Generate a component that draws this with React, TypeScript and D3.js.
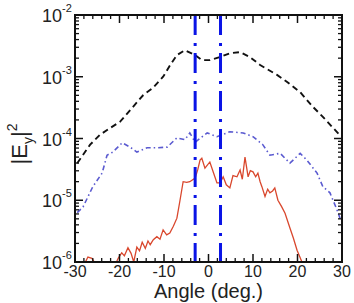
import React, { useEffect } from 'react';
import * as d3 from 'd3';

// black dashed curve (angle, log10 |Ey|^2)
const blackAngle = [-29.5, -26.6, -24.4, -22.1, -19.9, -17.6, -14.7, -12.5, -10.2, -8.6, -7.1, -5.3, -3, -1.5, 0.3, 2.6, 4.8, 7.1, 9.3, 11.6, 15.4, 17.6, 20.6, 23.5, 25.7, 29.7];
const blackLog = [-4.4, -4.1, -3.94, -3.83, -3.73, -3.54, -3.3, -3.18, -3.0, -2.81, -2.65, -2.57, -2.65, -2.73, -2.73, -2.68, -2.62, -2.6, -2.68, -2.81, -2.97, -3.08, -3.25, -3.49, -3.65, -3.96];

// blue dash-dot curve
const blueAngle = [-29.5, -28.2, -26, -23.9, -22.8, -21.5, -19.4, -17.6, -16.1, -13.8, -11.6, -9.3, -7.1, -5.3, -4.2, -3, -0.3, 1.9, 4.8, 7.8, 10, 12.2, 13.8, 16.1, 18.3, 20.6, 22.1, 24.4, 25.7, 27.3, 28.9, 29.6];
const blueLog = [-5.2, -5.11, -4.78, -4.56, -4.27, -4.22, -4.07, -4.14, -4.22, -4.15, -4.15, -4.14, -3.99, -4.02, -3.91, -4.06, -3.91, -3.97, -3.89, -3.91, -3.97, -4.1, -4.27, -4.24, -4.4, -4.24, -4.35, -4.56, -4.78, -4.88, -5.16, -5.3];

// red solid curve (noisy)
const redAngle = [-28, -27.1, -26.2, -25.5, -24.5, -21, -20.3, -19.5, -18.9, -18.1, -17.4, -16.8, -16.1, -15.5, -14.9, -14.2, -13.6, -13.1, -12.4, -11.6, -10.9, -10.2, -9.4, -8.7, -7.9, -7.1, -6.4, -5.7, -4.9, -4.2, -3, -2.4, -1.9, -1.5, -0.8, 0.3, 1.1, 1.9, 2.6, 3.3, 4, 4.8, 5.5, 6.4, 7.1, 7.6, 8.2, 8.9, 9.4, 10, 10.6, 11.1, 11.6, 12, 12.7, 13.3, 13.8, 14.4, 14.9, 15.6, 16.4, 17.2, 18.3, 19.1, 19.9, 21, 22];
const redLog = [-6.05, -5.92, -5.94, -6.02, -6.3, -6.05, -5.94, -5.85, -5.9, -5.77, -5.86, -6.0, -5.76, -5.82, -5.68, -5.78, -5.66, -5.72, -5.64, -5.59, -5.63, -5.48, -5.56, -5.53, -5.42, -5.29, -5.0, -4.7, -4.71, -4.7, -4.64, -4.5, -4.35, -4.32, -4.48, -4.38, -4.55, -4.72, -4.72, -4.62, -4.75, -4.8, -4.6, -4.62, -4.51, -4.66, -4.3, -4.62, -4.52, -4.54, -4.62, -4.56, -4.7, -4.78, -4.94, -4.82, -4.88, -4.85, -4.8, -5.0, -5.1, -5.21, -5.45, -5.62, -5.81, -6.0, -6.3];

// vertical dash-dot markers
const markerAngles = [-3, 2.7];

const xTicks = [-30, -20, -10, 0, 10, 20, 30];
const yDecades = [-2, -3, -4, -5, -6];

const W = 354;
const H = 303;
const margin = { top: 15, right: 12, bottom: 41, left: 75 };

const App: React.FC = () => {
  useEffect(() => {
    document.body.style.margin = '0';
  }, []);

  const iw = W - margin.left - margin.right;
  const ih = H - margin.top - margin.bottom;
  const x = d3.scaleLinear().domain([-30, 30]).range([0, iw]);
  const y = d3.scaleLinear().domain([-6, -2]).range([ih, 0]);

  const line = d3
    .line<[number, number]>()
    .x(d => x(d[0]))
    .y(d => y(d[1]));

  const toPts = (a: number[], b: number[]) => a.map((v, i) => [v, b[i]] as [number, number]);

  const xMinor = d3.range(-30, 31, 2).filter(v => v % 10 !== 0);
  const yMinor: number[] = [];
  yDecades.slice(1).forEach(dec => {
    for (let k = 2; k <= 9; k++) yMinor.push(dec + Math.log10(k));
  });

  const font = 'Liberation Sans, Arial, sans-serif';
  const txt = '#222';

  return (
    <svg width={W} height={H} style={{ display: 'block', background: '#fff' }} fontFamily={font}>
      <defs>
        <clipPath id="plot-clip">
          <rect x={0} y={0} width={iw} height={ih} />
        </clipPath>
      </defs>
      <g transform={`translate(${margin.left},${margin.top})`}>
        <g clipPath="url(#plot-clip)">
          <path d={line(toPts(redAngle, redLog)) || ''} fill="none" stroke="#d9472d" strokeWidth={1.3} />
          <path d={line(toPts(blueAngle, blueLog)) || ''} fill="none" stroke="#5a5ad0" strokeWidth={1.6} strokeDasharray="5,3,1.5,3" />
          <path d={line(toPts(blackAngle, blackLog)) || ''} fill="none" stroke="#111" strokeWidth={1.9} strokeDasharray="6,4" />
          {markerAngles.map(a => (
            <line key={a} x1={x(a)} x2={x(a)} y1={0} y2={ih} stroke="#0a14e6" strokeWidth={3} strokeDasharray="20,8,3,7" />
          ))}
        </g>

        {/* ticks */}
        {xTicks.map(t => (
          <g key={'xt' + t}>
            <line x1={x(t)} x2={x(t)} y1={ih} y2={ih - 8} stroke="#111" strokeWidth={1.5} />
            <line x1={x(t)} x2={x(t)} y1={0} y2={8} stroke="#111" strokeWidth={1.5} />
            <text x={x(t)} y={ih + 15} textAnchor="middle" fontSize={16} fill={txt}>
              {t}
            </text>
          </g>
        ))}
        {xMinor.map(t => (
          <g key={'xm' + t}>
            <line x1={x(t)} x2={x(t)} y1={ih} y2={ih - 4} stroke="#111" strokeWidth={1.3} />
            <line x1={x(t)} x2={x(t)} y1={0} y2={4} stroke="#111" strokeWidth={1.3} />
          </g>
        ))}
        {yDecades.map(d => (
          <g key={'yd' + d}>
            <line x1={0} x2={8} y1={y(d)} y2={y(d)} stroke="#111" strokeWidth={1.5} />
            <line x1={iw} x2={iw - 8} y1={y(d)} y2={y(d)} stroke="#111" strokeWidth={1.5} />
            <text x={-13} y={y(d) + 7} textAnchor="end" fontSize={18} fill={txt}>
              10
            </text>
            <text x={-13} y={y(d) - 3} textAnchor="start" fontSize={11} fill={txt}>
              {`${d}`}
            </text>
          </g>
        ))}
        {yMinor.map((v, i) => (
          <g key={'ym' + i}>
            <line x1={0} x2={4} y1={y(v)} y2={y(v)} stroke="#111" strokeWidth={1.3} />
            <line x1={iw} x2={iw - 4} y1={y(v)} y2={y(v)} stroke="#111" strokeWidth={1.3} />
          </g>
        ))}

        <rect x={0} y={0} width={iw} height={ih} fill="none" stroke="#111" strokeWidth={2} />

        <text x={iw / 2} y={ih + 36} textAnchor="middle" fontSize={20} fill={txt}>
          Angle (deg.)
        </text>
      </g>

      <text transform="translate(27,144) rotate(-90)" textAnchor="middle" fontSize={22} fill={txt}>
        |E
        <tspan fontSize={14} dy={6}>y</tspan>
        <tspan dy={-6}>|</tspan>
        <tspan fontSize={14} dy={-10}>2</tspan>
      </text>
    </svg>
  );
};

export default App;
